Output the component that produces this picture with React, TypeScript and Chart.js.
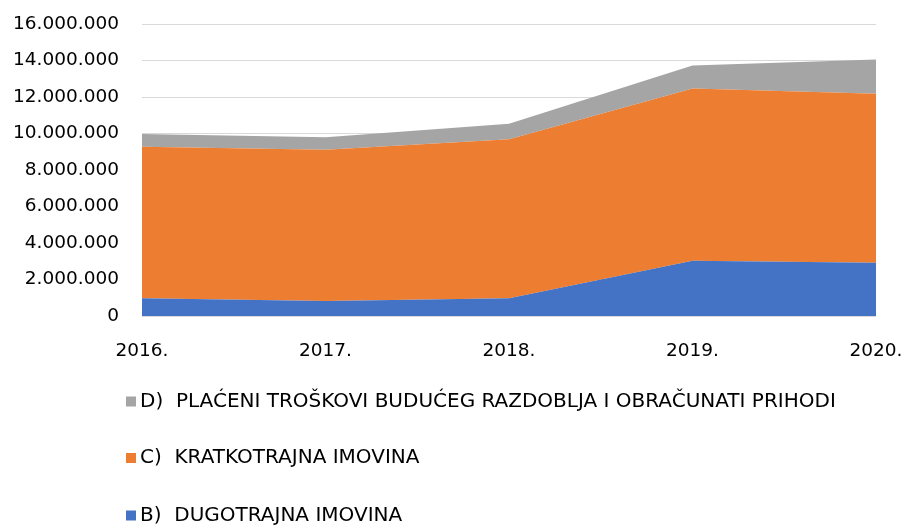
import React, { useEffect, useRef } from "react";
import { Chart, registerables } from "chart.js";

Chart.register(...registerables);

const years = ["2016.", "2017.", "2018.", "2019.", "2020."];
const dugotrajna = [970000, 820000, 970000, 3030000, 2920000];
const kratkotrajna = [8310000, 8290000, 8710000, 9430000, 9260000];
const placeniTroskovi = [690000, 680000, 860000, 1260000, 1870000];
const seriesNames = [
  "B)  DUGOTRAJNA IMOVINA",
  "C)  KRATKOTRAJNA IMOVINA",
  "D)  PLAĆENI TROŠKOVI BUDUĆEG RAZDOBLJA I OBRAČUNATI PRIHODI",
];
const seriesColors = ["#4472C4", "#ED7D31", "#A5A5A5"];

const FONT = "'DejaVu Sans', 'Liberation Sans', sans-serif";

const fmt = (v: number) => String(Math.round(v)).replace(/\B(?=(\d{3})+(?!\d))/g, ".");

const legendPlugin = {
  id: "vertLegend",
  afterDraw(chart: any) {
    const ctx = chart.ctx;
    const base = chart.chartArea.bottom;
    const offsets = [85.5, 142, 199.5];
    const ds = chart.data.datasets.slice().reverse();
    ctx.save();
    ctx.font = `20px ${FONT}`;
    ctx.textBaseline = "middle";
    ctx.textAlign = "left";
    ds.forEach((d: any, i: number) => {
      const y = base + offsets[i];
      ctx.fillStyle = d.backgroundColor;
      ctx.fillRect(126, y - 5, 10, 10);
      ctx.fillStyle = "#000000";
      ctx.fillText(d.label, 140, y);
    });
    ctx.restore();
  },
};

export default function App() {
  const ref = useRef<HTMLCanvasElement>(null);
  useEffect(() => {
    if (!ref.current) return;
    const values = [dugotrajna, kratkotrajna, placeniTroskovi];
    const chart = new Chart(ref.current, {
      type: "line",
      data: {
        labels: years,
        datasets: values.map((vals, i) => ({
          label: seriesNames[i],
          data: vals,
          backgroundColor: seriesColors[i],
          borderColor: seriesColors[i],
          borderWidth: 0,
          pointRadius: 0,
          fill: i === 0 ? "origin" : "-1",
          tension: 0,
        })),
      },
      options: {
        animation: false,
        responsive: false,
        maintainAspectRatio: false,
        layout: { padding: { top: 24, right: 28, bottom: 150, left: 0 } },
        plugins: {
          legend: { display: false },
          tooltip: { enabled: false },
        },
        scales: {
          x: {
            offset: false,
            grid: { display: false, drawTicks: false },
            border: { display: false },
            ticks: {
              padding: 24,
              maxRotation: 0,
              autoSkip: false,
              color: "#000000",
              font: { family: FONT, size: 18.5 },
            },
            afterFit: (s: any) => {
              s.height = 61;
              s.paddingLeft = 0;
              s.paddingRight = 0;
            },
          },
          y: {
            stacked: true,
            min: 0,
            max: 16000000,
            grid: { color: "#D9D9D9", lineWidth: 1, drawTicks: false },
            border: { display: false },
            ticks: {
              stepSize: 2000000,
              padding: 23,
              color: "#000000",
              font: { family: FONT, size: 18.5 },
              callback: (v: any) => fmt(Number(v)),
            },
            afterFit: (s: any) => {
              s.width = 142;
              s.paddingTop = 0;
              s.paddingBottom = 0;
            },
          },
        },
      },
      plugins: [legendPlugin],
    });
    return () => chart.destroy();
  }, []);
  return (
    <div style={{ position: "fixed", left: 0, top: 0, width: 904, height: 527, background: "#fff" }}>
      <canvas ref={ref} width={904} height={527} style={{ width: 904, height: 527, display: "block" }} />
    </div>
  );
}
